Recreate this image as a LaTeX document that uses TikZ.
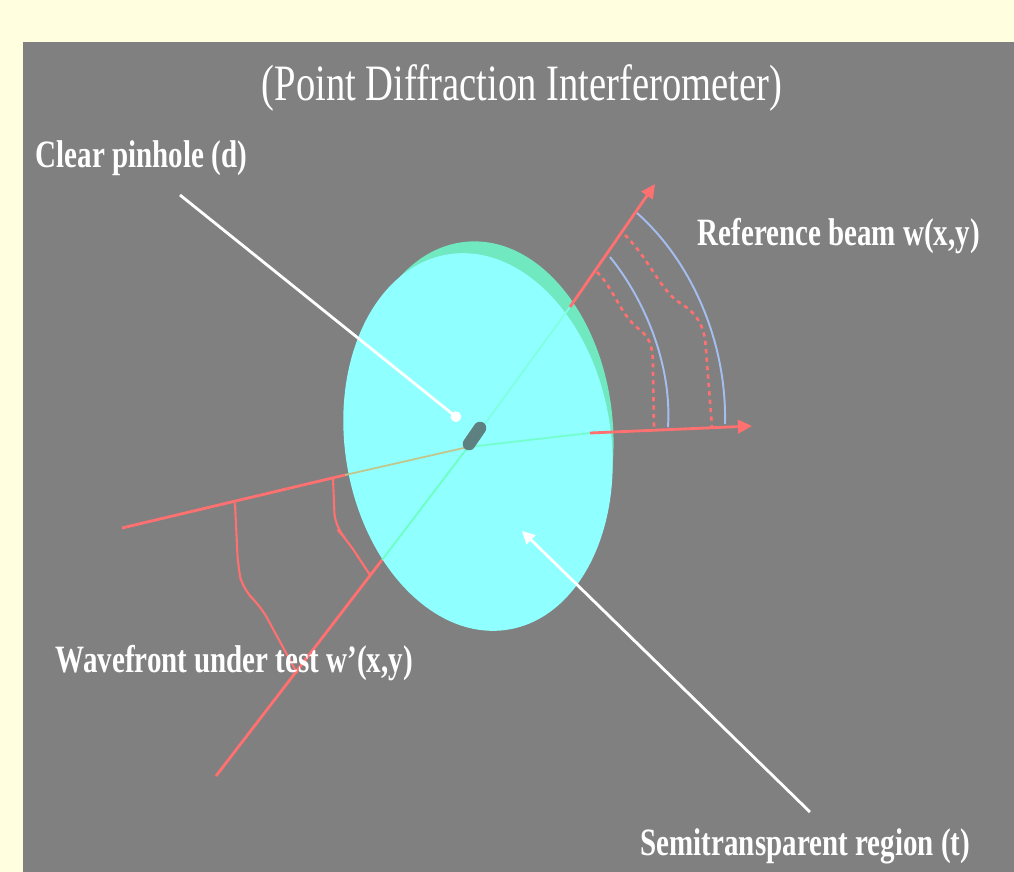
\documentclass[tikz,border=0pt]{standalone}
\usepackage{fontspec}
\setmainfont{Liberation Serif}
\newfontfamily\titlefont[FakeStretch=0.757]{Liberation Serif}
\newfontfamily\labelfont[FakeStretch=0.75]{Liberation Serif}
\usetikzlibrary{arrows.meta}
\definecolor{slidebg}{RGB}{255,255,224}
\definecolor{panelgray}{RGB}{128,128,128}
\definecolor{diskcyan}{RGB}{144,255,255}
\definecolor{diskrim}{RGB}{112,232,192}
\definecolor{rayred}{RGB}{255,112,112}
\definecolor{waveblue}{RGB}{165,190,240}
\definecolor{holegray}{RGB}{95,128,128}
\tikzset{
    rayline/.style={
        line width=0.8pt,
        rayred
    },
    % ray with a head
    rayarrow/.style={
        rayline,
        -{Triangle[length=4pt, width=3.8pt]}
    },
    raypale/.style={
        line width=0.5pt,
        #1
    },
    whitedot/.style={
        line width=0.8pt,
        white,
        -{Circle[length=3pt, width=3pt]}
    },
    whitearrow/.style={
        line width=0.8pt,
        white,
        -{Triangle[length=3.6pt, width=3.6pt]}
    },
    wavesolid/.style={
        line width=0.6pt,
        rayred,
        rounded corners=4pt
    },
    wavedotted/.style={
        line width=0.75pt,
        rayred,
        dash pattern=on 1.2pt off 1.2pt
    },
    waveplain/.style={
        line width=0.55pt,
        waveblue
    },
    boldlabel/.style={
        anchor=base west,
        inner sep=0pt,
        text=white,
        font=\labelfont\bfseries\fontsize{11}{13}\selectfont
    }
}
\begin{document}
\begin{tikzpicture}[x=0.01cm,y=-0.01cm]
   \useasboundingbox (0,0) rectangle (1014,872);
   \fill[slidebg] (0,0) rectangle (1014,872);
   \fill[panelgray] (23,42) rectangle (1014,872);
   % disk
   \fill[diskrim] (483,430) ellipse [x radius=130,y radius=189,rotate=5];
   \fill[diskcyan] (478,442) ellipse [x radius=133,y radius=190,rotate=9];
   \coordinate (pinhole) at (468,447);
   \coordinate (testin) at (122,528);
   \coordinate (testedge) at (345,475);
   \coordinate (lowin) at (216,776);
   \coordinate (lowedge) at (382,560);
   \coordinate (refpale) at (590,433);
   \coordinate (refend) at (752,426);
   \coordinate (upedge) at (570,307);
   \coordinate (upend) at (655,184);
   % rays inside the disk
   \draw[raypale=orange!45!diskcyan] (testedge) -- (pinhole);
   \draw[raypale=green!25!diskcyan] (lowedge) -- (pinhole);
   \draw[raypale=green!12!diskcyan] (pinhole) -- (upedge);
   \draw[raypale=green!20!diskcyan] (pinhole) -- (refpale);
   % rays outside
   \draw[rayline] (testin) -- (testedge);
   \draw[rayline] (lowin) -- (lowedge);
   \draw[rayarrow] (upedge) -- (upend);
   \draw[rayarrow] (refpale) -- (refend);
   % pinhole
   \draw[line width=3.6pt,line cap=round,holegray] (469,444) -- (480,428);
   % test wavefront
   \draw[wavesolid] (235,503) -- (238,567) -- (243,590) -- (260,605) -- (297,673);
   \draw[wavesolid] (333,478) -- (335,527) -- (347,540) -- (370,575);
   % reference beam
   \draw[waveplain] (637,213) .. controls (690,260) and (727,340) .. (725,424);
   \draw[waveplain] (610,257) .. controls (645,300) and (672,365) .. (668,427);
   \draw[wavedotted] (625,235) .. controls (650,260) and (660,290) .. (680,303)
      .. controls (700,315) and (705,330) .. (706,350) -- (712,427);
   \draw[wavedotted] (597,272) .. controls (615,290) and (620,315) .. (640,330)
      .. controls (652,340) and (653,350) .. (653,370) -- (654,428);
   % labels
   \node[anchor=base,text=white,font=\titlefont\fontsize{14.5}{17}\selectfont] (titlenode) at (522,100) {(Point Diffraction Interferometer)};
   \node[boldlabel] (clearnode) at (35,167) {Clear pinhole (d)};
   \node[boldlabel] (refnode) at (697,245) {Reference beam w(x,y)};
   \node[boldlabel] (testnode) at (55,672) {Wavefront under test w’(x,y)};
   \node[boldlabel] (seminode) at (640,855) {Semitransparent region (t)};
   % pointers
   \coordinate (clearstart) at (180,195);
   \coordinate (clearend) at (460,420);
   \coordinate (semistart) at (810,812);
   \coordinate (semiend) at (522,531);
   \draw[whitedot] (clearstart) -- (clearend);
   \draw[whitearrow] (semistart) -- (semiend);
\end{tikzpicture}
\end{document}
